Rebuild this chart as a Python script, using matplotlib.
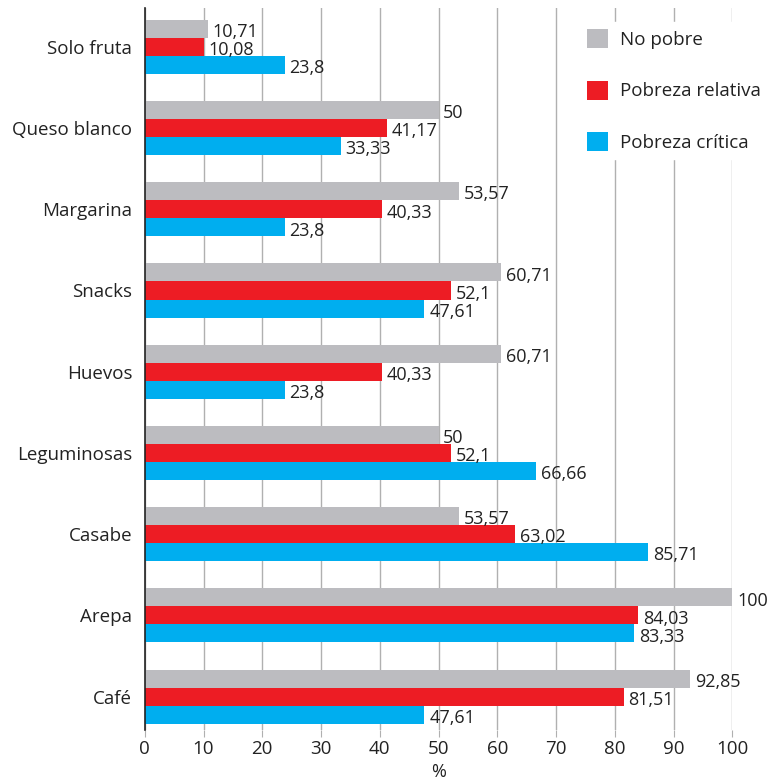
import matplotlib.pyplot as plt
import numpy as np

plt.rcParams['font.family'] = ['Open Sans', 'DejaVu Sans']

categorias = ['Solo fruta', 'Queso blanco', 'Margarina', 'Snacks', 'Huevos',
              'Leguminosas', 'Casabe', 'Arepa', 'Café']
no_pobre = [10.71, 50, 53.57, 60.71, 60.71, 50, 53.57, 100, 92.85]
pobreza_relativa = [10.08, 41.17, 40.33, 52.1, 40.33, 52.1, 63.02, 84.03, 81.51]
pobreza_critica = [23.8, 33.33, 23.8, 47.61, 23.8, 66.66, 85.71, 83.33, 47.61]

series = [
    ('No pobre', no_pobre, '#bcbcc0'),
    ('Pobreza relativa', pobreza_relativa, '#ed1c24'),
    ('Pobreza crítica', pobreza_critica, '#00aeef'),
]


def fmt(v):
    # coma decimal, sin ceros sobrantes
    s = ('%.2f' % v).rstrip('0').rstrip('.')
    return s.replace('.', ',')


fig = plt.figure(figsize=(7.7, 7.84), dpi=100)
ax = fig.add_axes([0.188, 0.069, 0.763, 0.921])

y = np.arange(len(categorias))
h = 0.222

for i, (nombre, vals, color) in enumerate(series):
    pos = y + (i - 1) * h
    ax.barh(pos, vals, height=h, color=color, label=nombre, zorder=2)
    for p, v in zip(pos, vals):
        ax.text(v + 0.8, p + 0.04, fmt(v), va='center', ha='left',
                fontsize=13, color='#222222', clip_on=False, zorder=3)

ax.set_xlim(0, 100)
ax.set_ylim(8.41, -0.48)
ax.set_xticks(range(0, 101, 10))
ax.set_yticks(y)
ax.set_yticklabels(categorias)
ax.grid(axis='x', color='#b0b0b0', linewidth=1, zorder=0)
ax.set_axisbelow(True)

for s in ['top', 'right', 'bottom']:
    ax.spines[s].set_visible(False)
ax.spines['left'].set_color('#222222')
ax.spines['left'].set_linewidth(1.2)

ax.tick_params(axis='y', length=0, pad=9, labelsize=13.5, labelcolor='#222222')
ax.tick_params(axis='x', length=5, color='#b0b0b0', pad=2, labelsize=13.5,
               labelcolor='#222222')
ax.set_xlabel('%', fontsize=13, color='#222222', labelpad=4)

leg = ax.legend(loc='upper left', bbox_to_anchor=(0.752, 0.972),
                bbox_transform=fig.transFigure, frameon=True,
                fontsize=13.5, handlelength=1.17, handleheight=1.17,
                labelspacing=1.68, handletextpad=0.6, borderpad=0.4,
                borderaxespad=0)
leg.get_frame().set_facecolor('white')
leg.get_frame().set_edgecolor('white')
leg.get_frame().set_alpha(1)
for t in leg.get_texts():
    t.set_color('#222222')

fig.savefig('out.png', dpi=100)
